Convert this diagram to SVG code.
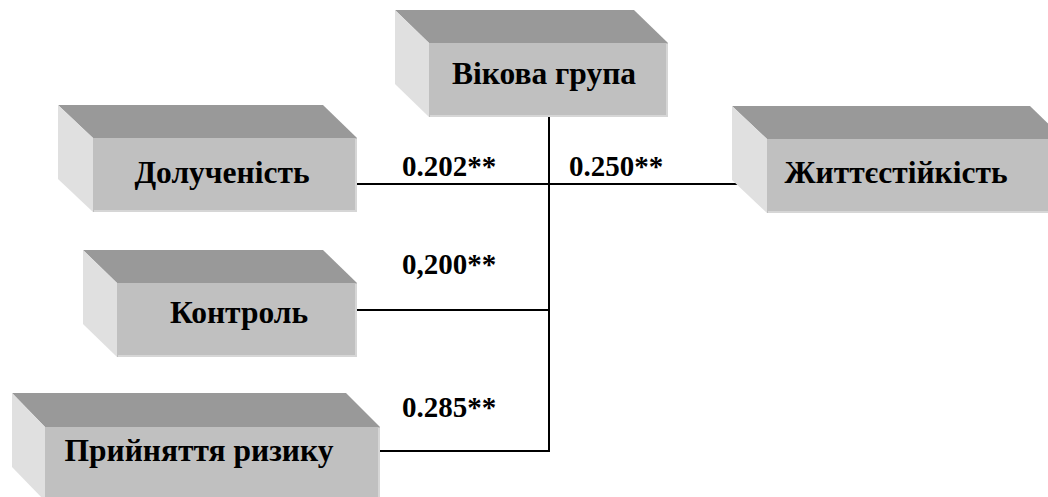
<svg xmlns="http://www.w3.org/2000/svg" width="1048" height="497" viewBox="0 0 1048 497">
  <style>
    .top { fill: #999999; }
    .side { fill: #e0e0e0; }
    .front { fill: #c0c0c0; }
    .rim { fill: none; stroke: #d6d6d6; stroke-width: 2; }
    .label { font-family: 'Times New Roman', 'Liberation Serif', 'DejaVu Serif', serif; font-weight: 700; font-size: 31.5px; fill: #000; text-anchor: middle; }
    .coef { font-family: 'Times New Roman', 'Liberation Serif', 'DejaVu Serif', serif; font-weight: 700; font-size: 29px; fill: #000; }
    .wire { stroke: #000; stroke-width: 2; fill: none; }
  </style>
  <rect width="1048" height="497" fill="#ffffff"/>

  <!-- connectors -->
  <g id="connectors">
    <line class="wire" x1="549" y1="117" x2="549" y2="452"/>
    <line class="wire" x1="357" y1="184" x2="767" y2="184"/>
    <line class="wire" x1="357" y1="310" x2="549" y2="310"/>
    <line class="wire" x1="380" y1="451" x2="550" y2="451"/>
    <text class="coef" x="402" y="176">0.202**</text>
    <text class="coef" x="569" y="176">0.250**</text>
    <text class="coef" x="402" y="274">0,200**</text>
    <text class="coef" x="402" y="417">0.285**</text>
  </g>

  <!-- age group -->
  <g id="node-age">
    <polygon class="top" points="395,10 634,10 668,43 429,43"/>
    <polygon class="side" points="395,10 429,43 429,117 395,84"/>
    <rect class="front" x="429" y="43" width="239" height="74"/>
    <polyline class="rim" points="667,44 667,116 430,116"/>
    <text class="label" x="544" y="84">Вікова група</text>
  </g>

  <!-- involvement -->
  <g id="node-involvement">
    <polygon class="top" points="58,105 323,105 357,138 93,138"/>
    <polygon class="side" points="58,105 93,138 93,212 58,179"/>
    <rect class="front" x="93" y="138" width="264" height="74"/>
    <polyline class="rim" points="356,139 356,211 94,211"/>
    <text class="label" x="222" y="183">Долученість</text>
  </g>

  <!-- resilience -->
  <g id="node-resilience">
    <polygon class="top" points="732,106 1030,106 1064,139 767,139"/>
    <polygon class="side" points="732,106 767,139 767,213 732,180"/>
    <rect class="front" x="767" y="139" width="297" height="74"/>
    <line class="rim" x1="768" y1="212" x2="1064" y2="212"/>
    <text class="label" x="896" y="183">Життєстійкість</text>
  </g>

  <!-- control -->
  <g id="node-control">
    <polygon class="top" points="83,250 323,250 357,283 117,283"/>
    <polygon class="side" points="83,250 117,283 117,357 83,324"/>
    <rect class="front" x="117" y="283" width="240" height="74"/>
    <polyline class="rim" points="356,284 356,356 118,356"/>
    <text class="label" x="239" y="323">Контроль</text>
  </g>

  <!-- risk acceptance -->
  <g id="node-risk">
    <polygon class="top" points="12,393 346,393 380,427 45,427"/>
    <polygon class="side" points="12,393 45,427 45,501 12,467"/>
    <rect class="front" x="45" y="427" width="335" height="74"/>
    <line class="rim" x1="379" y1="428" x2="379" y2="500"/>
    <text class="label" x="199" y="461">Прийняття ризику</text>
  </g>
</svg>
